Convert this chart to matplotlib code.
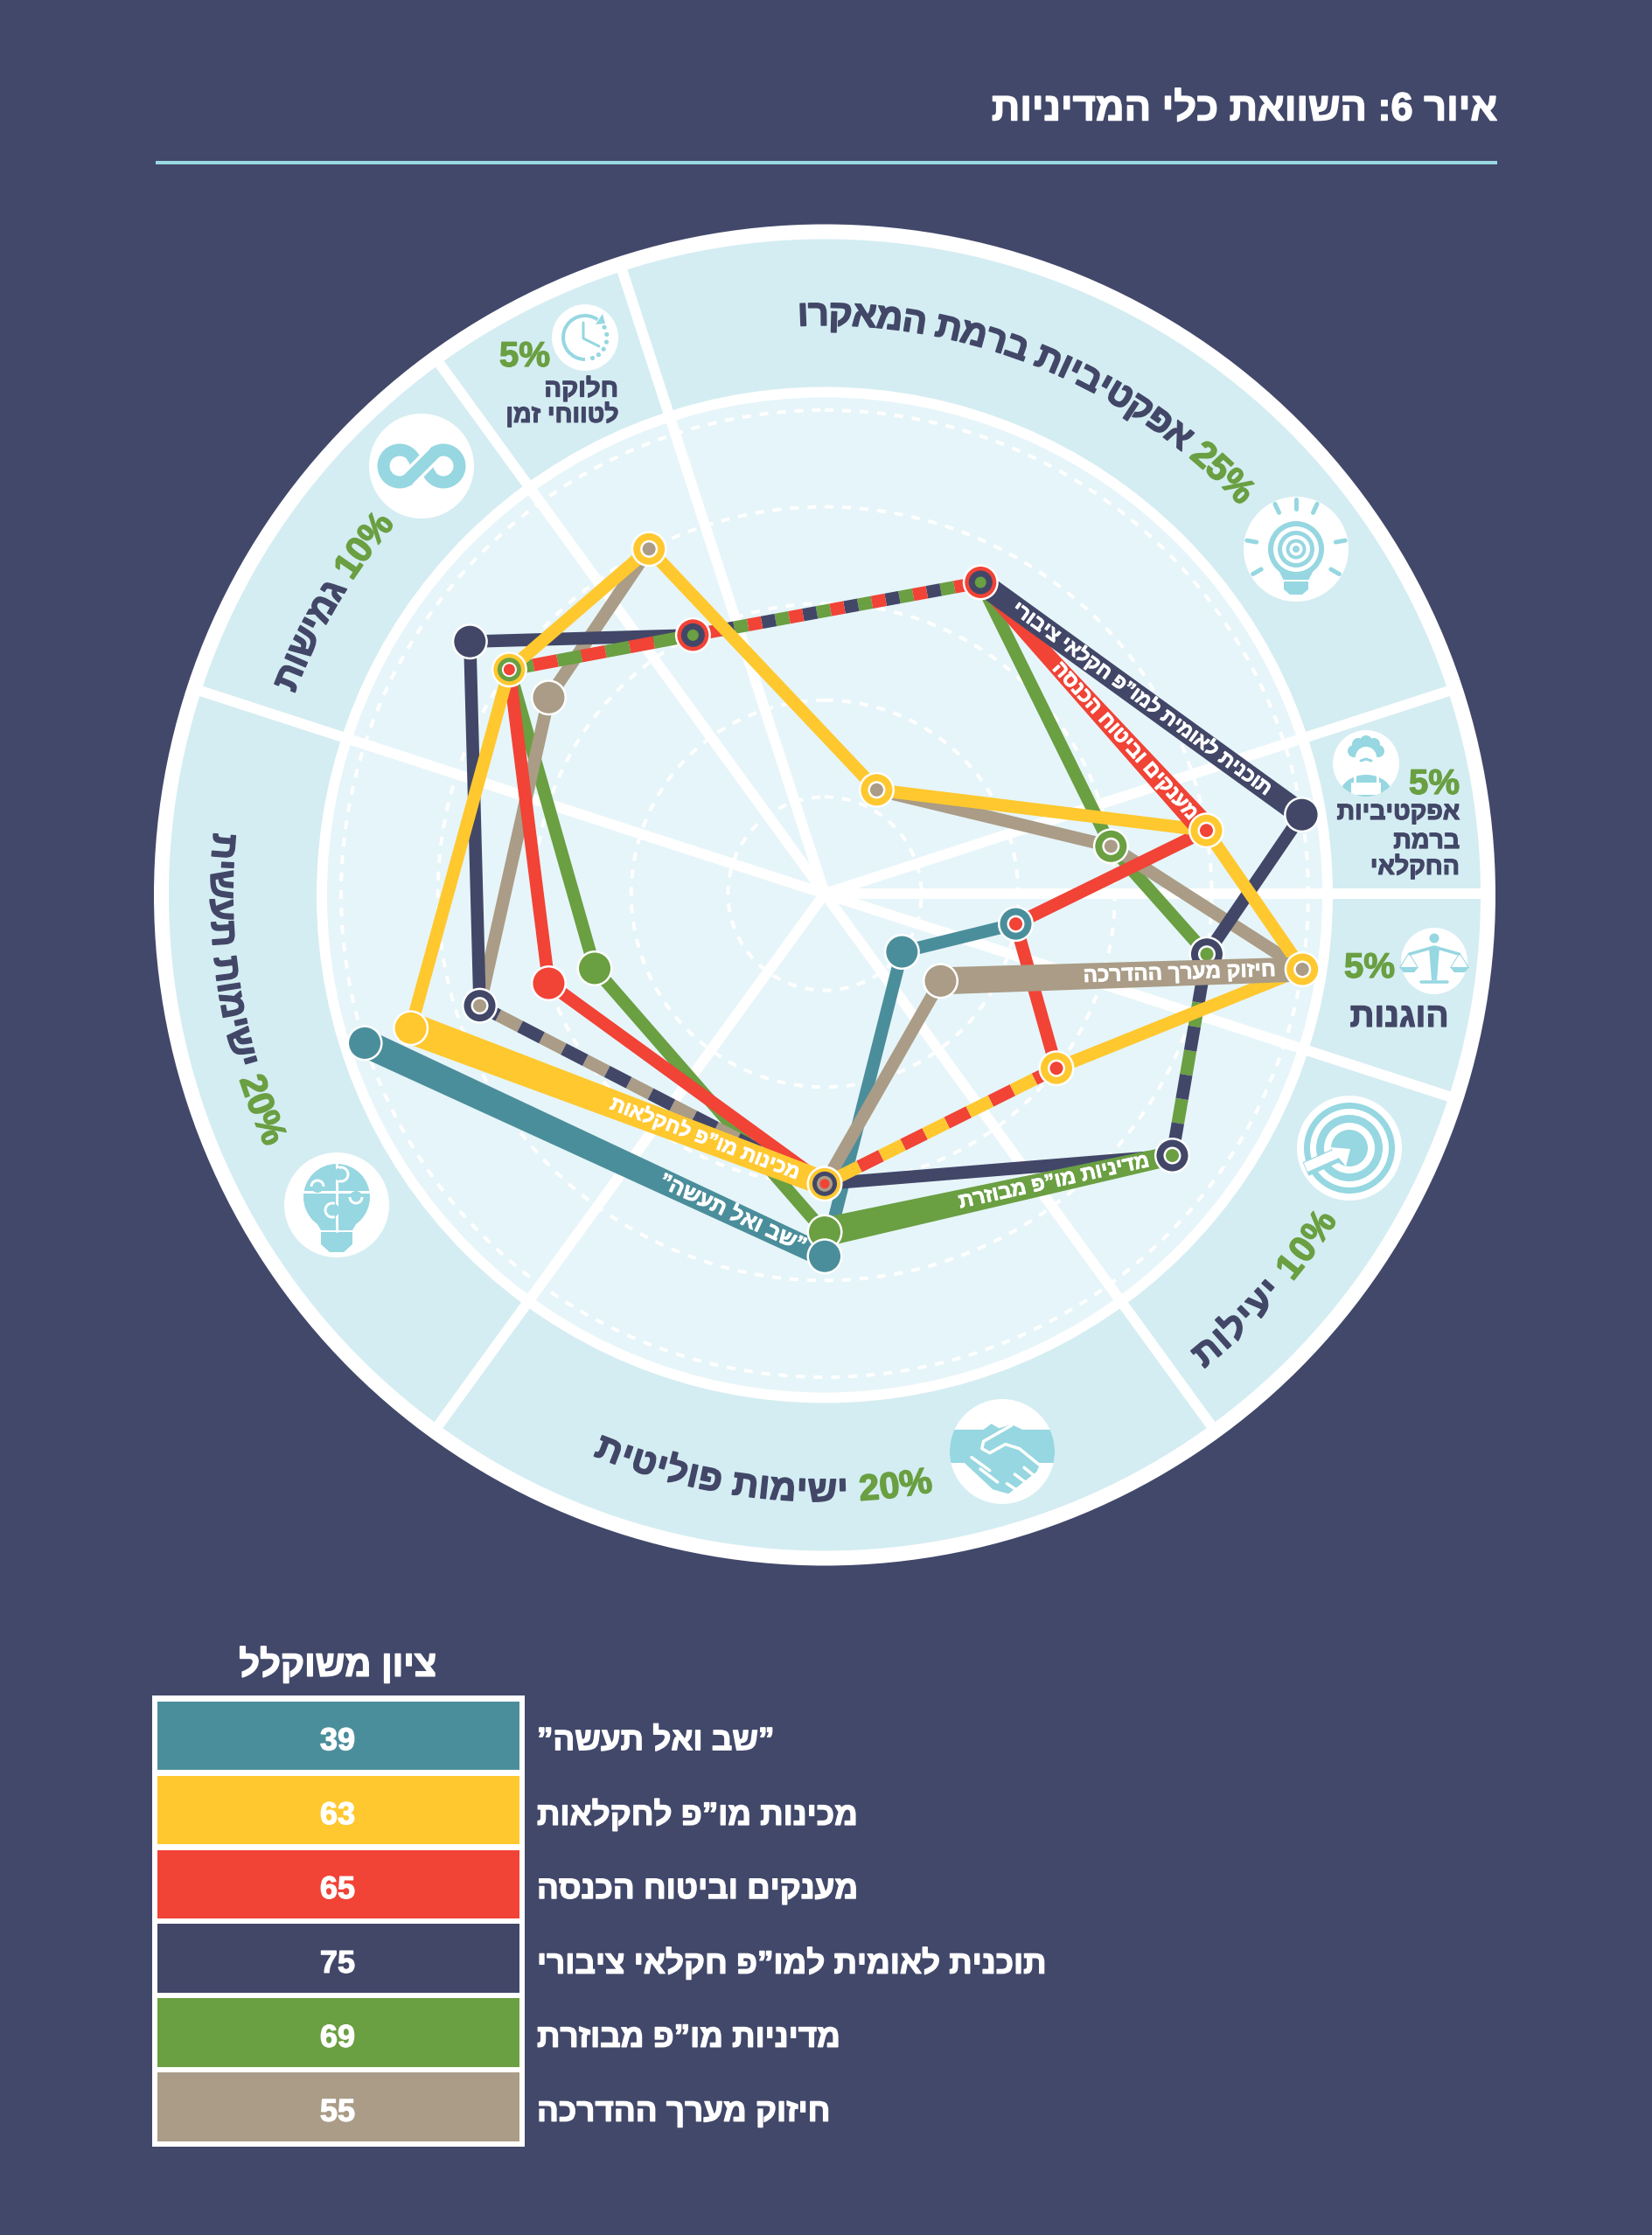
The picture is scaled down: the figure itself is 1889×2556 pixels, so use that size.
import math
import matplotlib
matplotlib.use("Agg")
import matplotlib.pyplot as plt
import matplotlib.patheffects as pe
from matplotlib import font_manager
from matplotlib.ft2font import LoadFlags
from matplotlib.patches import Circle, Ellipse, Polygon, Rectangle, Arc

plt.rcParams['font.family'] = ['Liberation Sans', 'DejaVu Sans']
plt.rcParams['lines.scale_dashes'] = False

# Axes of the wheel, clockwise from the macro sector
axis_names = ['אפקטיביות ברמת המאקרו', 'אפקטיביות ברמת החקלאי', 'הוגנות', 'יעילות',
              'ישימות פוליטית', 'ישימות תעשית', 'גמישות', 'חלוקה לטווחי זמן']
axis_weights = [25, 5, 5, 10, 20, 20, 10, 5]
axis_angles = [63.4, 9.4, -9, -37, -90, -162, 144.6, 117]
spoke_angles = [108, 18, 0, -18, -54, -126, 162, 126]

# Ratings 1-5 per axis, None where the instrument has no point
teal_vals = [None, None, 2.0, 1.0, 3.75, 5.0, None, None]
yellow_vals = [1.2, 4.0, 5.0, 3.0, 3.0, 4.5, 4.0, 4.0]
red_vals = [3.6, 4.0, 2.0, 3.0, 3.0, 3.0, 4.0, 3.0]
navy_vals = [3.6, 5.0, 4.0, 4.5, 3.0, 3.75, 4.5, 3.0]
green_vals = [3.6, 3.0, 4.0, 4.5, 3.5, 2.5, 4.0, 3.0]
tan_vals = [1.2, 3.0, 5.0, 1.5, 3.0, 3.75, 3.5, 4.0]

series_names = ['”שב ואל תעשה”', 'מכינות מו”פ לחקלאות', 'מענקים וביטוח הכנסה',
                'תוכנית לאומית למו”פ חקלאי ציבורי', 'מדיניות מו”פ מבוזרת', 'חיזוק מערך ההדרכה']
series_scores = [39, 63, 65, 75, 69, 55]

BG = '#42486a'
RING = '#d4edf2'
INNER = '#e6f5f9'
ICON = '#96d7e1'
TEAL = '#4b8e9b'
YELLOW = '#ffc82f'
RED = '#f14336'
NAVY = '#424768'
GREEN = '#6a9f42'
TAN = '#aa9c86'
WHITE = 'white'

series_colors = [TEAL, YELLOW, RED, NAVY, GREEN, TAN]
series_vals = dict(zip(series_colors, [teal_vals, yellow_vals, red_vals, navy_vals, green_vals, tan_vals]))
line_order = [TEAL, GREEN, TAN, NAVY, RED, YELLOW]
stack_order = [YELLOW, NAVY, GREEN, TEAL, TAN, RED]

# Labelled edges drawn as wide bands: (colour, edge): left width, right width, label pos, name index, font size
bands = {(NAVY, 0): (26, 26, 0.50, 3, 16.4), (RED, 0): (15, 29, 0.64, 2, 17),
         (TAN, 2): (31, 28, 0.66, 5, 17.4), (GREEN, 3): (33, 22, 0.66, 4, 17),
         (YELLOW, 4): (36, 28, 0.71, 1, 16.6), (TEAL, 4): (32, 26, 0.80, 0, 17.8)}
band_z = {NAVY: 3.3, RED: 3.2, TAN: 4.5, GREEN: 3.0, YELLOW: 3.4, TEAL: 2.9}

W, H = 1890, 2556
cx, cy = 943, 1022
ring_cy = 1023.5
unit = 110.6
PX = 0.72  # one image pixel in points

fig = plt.figure(figsize=(W / 100, H / 100), dpi=100, facecolor=BG)
ax = fig.add_axes([0, 0, 1, 1])
ax.set_xlim(0, W)
ax.set_ylim(H, 0)
ax.axis('off')


def heb(s):
    # matplotlib has no bidi, so glyphs go in visual order
    return s[::-1]


def pt(i, val):
    a = math.radians(axis_angles[i])
    return cx + val * unit * math.cos(a), cy - val * unit * math.sin(a)


def circle(x, y, r, color, z, **kw):
    c = Circle((x, y), r, fc=color, ec='none', zorder=z, **kw)
    ax.add_patch(c)
    return c


def line(xs, ys, color, width, z, cap='round', **kw):
    return ax.plot(xs, ys, color=color, lw=width * PX, zorder=z, solid_capstyle=cap,
                   solid_joinstyle='round', **kw)[0]


def fat(color, width=0.9):
    # the reference face is heavier than Liberation Bold
    return [pe.withStroke(linewidth=width, foreground=color)]


def bold(x, y, s, size, color, ha='center', va='center', stroke=0.9, **kw):
    return ax.text(x, y, s, fontsize=size, color=color, ha=ha, va=va, fontweight='bold',
                   path_effects=fat(color, stroke), **kw)


def advances(s, size):
    prop = font_manager.FontProperties(family='Liberation Sans', weight='bold')
    font = font_manager.get_font(font_manager.findfont(prop))
    font.set_size(size, 72)
    out = []
    for ch in s:
        g = font.load_char(ord(ch), flags=LoadFlags.NO_HINTING)
        out.append(g.linearHoriAdvance / 65536 * 100 / 72)
    return out


def curved(runs, size, a0, a1, radius, tops_out):
    # runs are in visual order, a0 -> a1 is the angle span going left to right of the text
    chars = []
    for s, color in runs:
        chars += [(c, color) for c in s]
    adv = advances(''.join(c for c, _ in chars), size)
    total = abs(math.radians(a1 - a0)) * radius
    extra = (total - sum(adv)) / max(len(adv) - 1, 1)
    pos = 0
    sign = 1 if a1 > a0 else -1
    for (c, color), w in zip(chars, adv):
        th = a0 + sign * math.degrees((pos + w / 2) / radius)
        r = math.radians(th)
        x, y = cx + radius * math.cos(r), cy - radius * math.sin(r)
        rot = th - 90 if tops_out else th + 90
        if c != ' ':
            ax.text(x, y, c, fontsize=size, color=color, fontweight='bold', ha='center', va='baseline',
                    rotation=rot, rotation_mode='anchor', zorder=2, path_effects=fat(color, 1.1))
        pos += w + extra


# ---- title ----
bold(1712, 126, heb('איור 6: השוואת כלי המדיניות'), 32.5, WHITE, ha='right', stroke=1.1)
line([178, 1712], [186, 186], '#9ad9e2', 4, 1, cap='butt')

# ---- wheel ----
circle(cx, ring_cy, 767, WHITE, 0.1)
circle(cx, ring_cy, 750, RING, 0.2)
circle(cx, ring_cy, 581, WHITE, 0.3)
circle(cx, ring_cy, 569, INNER, 0.4)
for k in range(1, 6):
    ax.add_patch(Circle((cx, cy), k * unit, fc='none', ec=WHITE, lw=4 * PX, zorder=0.5,
                        linestyle=(0, (10 * PX, 10 * PX))))
for a in spoke_angles:
    r = math.radians(a)
    line([cx, cx + 760 * math.cos(r)], [cy, cy - 760 * math.sin(r)], WHITE, 12, 0.6, cap='butt')

# ---- edges ----
edges = {}
for color in line_order:
    vals = series_vals[color]
    for i in range(8):
        j = (i + 1) % 8
        if vals[i] is None or vals[j] is None:
            continue
        edges.setdefault((i, vals[i], j, vals[j]), []).append(color)

for (i, vi, j, vj), colors in edges.items():
    p0, p1 = pt(i, vi), pt(j, vj)
    if set(colors) == {YELLOW, TAN}:
        colors = [YELLOW]
    z = 2 + 0.1 * max(line_order.index(c) for c in colors)
    xs, ys = [p0[0], p1[0]], [p0[1], p1[1]]
    if len(colors) == 1:
        c = colors[0]
        if (c, i) in bands:
            wl, wr, t, idx, fs = bands[(c, i)]
            left, right = (p0, p1) if p0[0] < p1[0] else (p1, p0)
            dx, dy = right[0] - left[0], right[1] - left[1]
            n = math.hypot(dx, dy)
            nx, ny = -dy / n, dx / n
            ax.add_patch(Polygon([(left[0] + nx * wl / 2, left[1] + ny * wl / 2),
                                  (right[0] + nx * wr / 2, right[1] + ny * wr / 2),
                                  (right[0] - nx * wr / 2, right[1] - ny * wr / 2),
                                  (left[0] - nx * wl / 2, left[1] - ny * wl / 2)],
                                 fc=c, ec='none', zorder=band_z[c]))
            rot = math.degrees(math.atan2(-dy, dx))
            bold(left[0] + dx * t, left[1] + dy * t, heb(series_names[idx]), fs, WHITE, stroke=0.6,
                 rotation=rot, rotation_mode='anchor', zorder=band_z[c] + 0.05)
        else:
            line(xs, ys, c, 14.5, z, cap='butt')
    else:
        # shared edge, alternate the colours along it
        n = len(colors)
        dash = 28 if n == 2 else 16
        for k, c in enumerate(colors):
            style = (k * dash * PX, (dash * PX, (n - 1) * dash * PX)) if k else (0, (dash * PX, (n - 1) * dash * PX))
            line(xs, ys, c, 14.5, z + 0.01 * k, cap='butt', linestyle=style)

# ---- nodes ----
nodes = {}
for color in stack_order:
    vals = series_vals[color]
    for i in range(8):
        if vals[i] is not None:
            nodes.setdefault((i, vals[i]), []).append(color)

for (i, val), colors in sorted(nodes.items(), key=lambda kv: TEAL in kv[1]):
    x, y = pt(i, val)
    z = 4.0 if (i, val) == (2, 4.0) else 5.0
    if colors == [TEAL]:
        z = 5.2
    if set(colors) == {RED, NAVY, GREEN}:
        colors = [RED, NAVY, GREEN]
    circle(x, y, 20.5, WHITE, z)
    if len(colors) == 1:
        circle(x, y, 18, colors[0], z)
    elif len(colors) == 2:
        circle(x, y, 18, colors[0], z)
        circle(x, y, 10, WHITE, z)
        circle(x, y, 7.5, colors[1], z)
    elif len(colors) == 3:
        circle(x, y, 18, colors[0], z)
        circle(x, y, 13.5, colors[1], z)
        if colors[2] == RED:
            circle(x, y, 8.5, WHITE, z)
        circle(x, y, 6.5, colors[2], z)
    else:
        for c, r in zip(colors, [18, 14, 9, 5.5]):
            circle(x, y, r, c, z)

# ---- curved sector labels ----
curved([(heb(axis_names[0]), NAVY), (' ', NAVY), ('25%', GREEN)], 30, 92.7, 43, 650, True)
curved([(heb(axis_names[6]), NAVY), (' ', NAVY), ('10%', GREEN)], 30, 159.3, 139.3, 648, True)
curved([(heb(axis_names[5]), NAVY), (' ', NAVY), ('20%', GREEN)], 30, 174.3, 204.4, 702, False)
curved([(heb(axis_names[4]), NAVY), (' ', NAVY), ('20%', GREEN)], 30, 247.6, 280.3, 695, False)
curved([(heb(axis_names[3]), NAVY), (' ', NAVY), ('10%', GREEN)], 30, -51.4, -32.5, 695, False)

# ---- small sector labels ----
bold(600, 408, '5%', 29, GREEN, zorder=2)
bold(707, 445, heb('חלוקה'), 21, NAVY, ha='right', zorder=2)
bold(707, 475, heb('לטווחי זמן'), 20.5, NAVY, ha='right', zorder=2)
bold(1640, 897, '5%', 29, GREEN, zorder=2)
for y, s in zip([930, 963, 992], ['אפקטיביות', 'ברמת', 'החקלאי']):
    bold(1669, y, heb(s), 20.5, NAVY, ha='right', zorder=2)
bold(1566, 1107, '5%', 29, GREEN, zorder=2)
bold(1600, 1164, heb(axis_names[2]), 28, NAVY, zorder=2)


# ---- icons ----
def bulb_icon(x, y):
    circle(x, y, 60, WHITE, 1)
    for a in [90, 115, 65, 170, 10, 210, -30]:
        r = math.radians(a)
        line([x + 46 * math.cos(r), x + 57 * math.cos(r)], [y - 46 * math.sin(r), y - 57 * math.sin(r)], ICON, 5, 1.1)
    ax.add_patch(Polygon([(x - 22, y + 20), (x + 22, y + 20), (x + 14, y + 36), (x + 14, y + 46),
                          (x + 7, y + 52), (x - 7, y + 52), (x - 14, y + 46), (x - 14, y + 36)],
                         fc=ICON, ec='none', zorder=1.1))
    line([x - 15, x + 15], [y + 36, y + 36], WHITE, 2, 1.2)
    for r, c in [(32, ICON), (26, WHITE), (21, ICON), (16, WHITE), (11.5, ICON), (7.5, WHITE), (4, ICON)]:
        circle(x, y, r, c, 1.2)


def puzzle_icon(x, y):
    circle(x, y, 60, WHITE, 1)
    circle(x, y - 9, 38, ICON, 1.1)
    ax.add_patch(Polygon([(x - 36, y - 2), (x + 36, y - 2), (x + 22, y + 22), (x + 18, y + 29), (x - 18, y + 29), (x - 22, y + 22)],
                         fc=ICON, ec='none', zorder=1.1))
    ax.add_patch(Polygon([(x - 18, y + 31), (x + 18, y + 31), (x + 18, y + 45), (x + 8, y + 54), (x - 8, y + 54), (x - 18, y + 45)],
                         fc=ICON, ec='none', zorder=1.1))
    line([x, x], [y - 47, y + 30], WHITE, 3, 1.2)
    line([x - 38, x + 38], [y - 15, y - 15], WHITE, 3, 1.2)
    for tx, ty, r, a0, a1, c in [(x + 5, y - 35, 8, -110, 110, ICON), (x - 22, y - 21, 7, 180, 360, ICON),
                                 (x + 22, y - 9, 7, 0, 180, ICON), (x - 5, y + 6, 8, 70, 290, ICON)]:
        circle(tx, ty, r, c, 1.25)
        ax.add_patch(Arc((tx, ty), 2 * r, 2 * r, theta1=a0, theta2=a1, ec=WHITE, lw=3 * PX, zorder=1.3))


def infinity_icon(x, y):
    circle(x, y, 60, WHITE, 1)
    for sx in (-1, 1):
        ax.add_patch(Circle((x + sx * 25, y), 18.5, fc='none', ec=ICON, lw=14 * PX, zorder=1.1))
    line([x - 12, x + 12], [y - 12, y + 12], ICON, 14, 1.15, cap='butt')
    line([x - 15, x + 15], [y + 15, y - 15], WHITE, 21, 1.2, cap='butt')
    line([x - 17, x + 17], [y + 17, y - 17], ICON, 14, 1.25, cap='butt')


def clock_icon(x, y):
    circle(x, y, 38, WHITE, 1)
    # y axis is flipped, so arc angles run clockwise on screen
    ax.add_patch(Arc((x, y), 50, 50, theta1=90, theta2=305, ec=ICON, lw=4 * PX, zorder=1.1))
    ax.add_patch(Polygon([(x + 12, y - 15), (x + 23, y - 16), (x + 20, y - 27)], fc=ICON, ec='none', zorder=1.1))
    line([x - 2, x - 2, x + 16], [y - 17, y + 1, y + 10], ICON, 3, 1.1)
    for a in [28, 8, -12, -32, -52, -70]:
        r = math.radians(a)
        circle(x + 25 * math.cos(r), y - 25 * math.sin(r), 2.6, ICON, 1.1)


def farmer_icon(x, y):
    clip = circle(x, y, 38, WHITE, 1)
    body = Ellipse((x, y + 36), 60, 46, fc=ICON, ec='none', zorder=1.1)
    ax.add_patch(body)
    body.set_clip_path(clip)
    for dx, dy in [(-14, -14), (-9, -22), (0, -25), (9, -22), (14, -14), (0, -20)]:
        circle(x + dx, y + dy, 7, ICON, 1.1)
    circle(x, y - 7, 12, WHITE, 1.2)
    line([x - 6, x, x + 6], [y - 3, y - 5, y - 3], ICON, 3, 1.3)
    bib = Rectangle((x - 17, y + 22), 34, 14, fc=WHITE, ec='none', zorder=1.3)
    ax.add_patch(bib)
    bib.set_clip_path(clip)
    line([x - 13, x - 13], [y + 8, y + 22], WHITE, 3, 1.3, cap='butt')
    line([x + 13, x + 13], [y + 8, y + 22], WHITE, 3, 1.3, cap='butt')


def scales_icon(x, y):
    circle(x, y, 38, WHITE, 1)
    circle(x, y - 26, 5.5, ICON, 1.1)
    line([x - 28, x, x + 28], [y - 8, y - 16, y - 8], ICON, 3.5, 1.1)
    ax.add_patch(Polygon([(x - 6, y - 16), (x + 6, y - 16), (x + 3, y + 22), (x - 3, y + 22)], fc=ICON, ec='none', zorder=1.1))
    line([x - 15, x + 15], [y + 24, y + 24], ICON, 3.5, 1.1)
    for sx in (-29, 29):
        line([x + sx - 10, x + sx, x + sx + 10], [y + 7, y - 9, y + 7], ICON, 1, 1.1)
        ax.add_patch(Polygon([(x + sx - 11, y + 7), (x + sx + 11, y + 7), (x + sx + 6, y + 13), (x + sx - 6, y + 13)],
                             fc=ICON, ec='none', zorder=1.1))


def target_icon(x, y):
    circle(x, y, 60, WHITE, 1)
    for r, c in [(52, ICON), (45, WHITE), (38, ICON), (29, WHITE), (21, ICON)]:
        circle(x, y, r, c, 1.1)
    line([x - 50, x - 14], [y + 24, y + 8], ICON, 17, 1.2, cap='butt')
    line([x - 50, x - 14], [y + 22, y + 6], WHITE, 11, 1.3, cap='butt')
    ax.add_patch(Polygon([(x + 1, y + 1), (x - 22, y - 1), (x - 4, y + 21)], fc=WHITE, ec='none', zorder=1.3))


def handshake_icon(x, y):
    clip = circle(x, y, 60, WHITE, 1)
    band = Rectangle((x - 60, y - 25), 120, 38, fc=ICON, ec='none', zorder=1.1)
    ax.add_patch(band)
    band.set_clip_path(clip)

    def rel(pts):
        return [(x + (a - 1360) / 2.8, y + (b - 240) / 3) for a, b in pts]

    ax.add_patch(Polygon(rel([(1240, 280), (1300, 165), (1325, 145), (1350, 160), (1390, 147), (1425, 165), (1480, 285),
                              (1470, 310), (1380, 385), (1330, 370), (1250, 290)]), fc=ICON, ec='none', zorder=1.2))
    pts = rel([(1390, 150), (1300, 205), (1295, 230), (1320, 245), (1370, 215), (1415, 230), (1478, 285)])
    line([p[0] for p in pts], [p[1] for p in pts], WHITE, 3.5, 1.3)
    for a, b in [((1262, 260), (1320, 305)), ((1290, 300), (1345, 345)), ((1430, 295), (1470, 330)),
                 ((1400, 318), (1440, 350)), ((1375, 350), (1410, 375))]:
        p = rel([a, b])
        line([p[0][0], p[1][0]], [p[0][1], p[1][1]], WHITE, 3.5, 1.3)


bulb_icon(1482, 628)
puzzle_icon(385, 1378)
infinity_icon(482, 533)
clock_icon(669, 386)
farmer_icon(1562, 873)
scales_icon(1640, 1099)
target_icon(1543, 1313)
handshake_icon(1146, 1660)

# ---- score table ----
bold(386, 1905, heb('ציון משוקלל'), 30, WHITE, stroke=1.1)
ax.add_patch(Rectangle((174, 1939), 426, 516, fc=WHITE, ec='none', zorder=1))
for k, (name, score, color) in enumerate(zip(series_names, series_scores, series_colors)):
    top = 1945.7 + k * 84.9
    ax.add_patch(Rectangle((180, top), 414, 78.5, fc=color, ec='none', zorder=1.1))
    bold(386, top + 46, str(score), 26, WHITE, zorder=1.2)
    bold(614, top + 46, heb(name), 26.5, WHITE, ha='left', zorder=1.2, stroke=1.0)

fig.savefig('out.png', dpi=100, facecolor=BG)
